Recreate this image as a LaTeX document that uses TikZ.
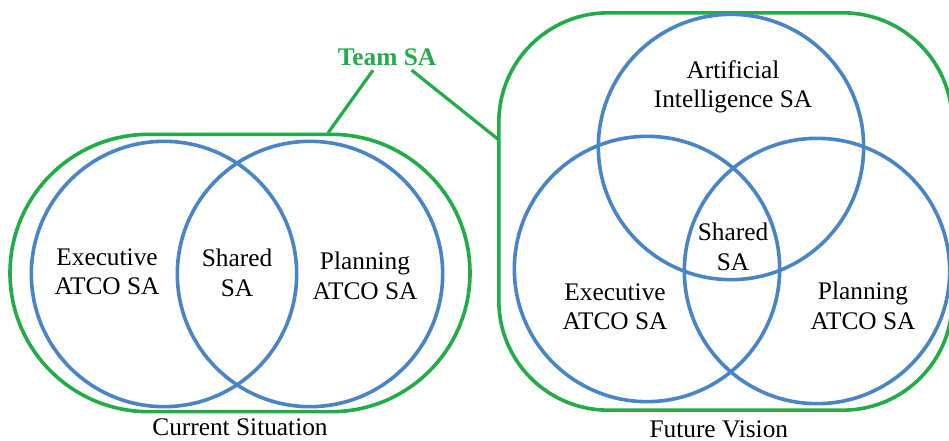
\documentclass[tikz,border=0pt]{standalone}
\usepackage{fontspec}
\setmainfont{Liberation Serif}
\usetikzlibrary{positioning}
\definecolor{teamgreen}{RGB}{34,172,72}
\definecolor{sablue}{RGB}{72,132,198}
\tikzstyle{sacircle} = [circle, draw=sablue, line width=2.7pt, minimum size=199pt, inner sep=0pt]
\tikzstyle{teambox} = [rectangle, draw=teamgreen, line width=2.7pt, inner sep=0pt]
\tikzstyle{teamline} = [draw=teamgreen, line width=2.4pt]
\tikzstyle{salabel} = [align=center, font=\fontsize{19pt}{22pt}\selectfont]
\begin{document}
\begin{tikzpicture}[x=0.75pt, y=-0.75pt]
	\useasboundingbox (0,0) rectangle (949,441);
	% current situation: two controllers
	\node (Current) [teambox, minimum width=345pt, minimum height=208pt, rounded corners=104pt] at (240,273) {};
	\node (ExecNow) [sacircle] at (164,274) {};
	\node (PlanNow) [sacircle] at (310,274) {};
	\node (ExecNowText) [salabel] at (107,272) {Executive\\ATCO SA};
	\node (SharedNowText) [salabel] at (237,273) {Shared\\SA};
	\node (PlanNowText) [salabel] at (365,276) {Planning\\ATCO SA};
	\node (CurrentCaption) [salabel, inner sep=1pt, below = 3pt of Current] {Current Situation};
	% future vision: controllers plus AI
	\node (Future) [teambox, minimum width=340pt, minimum height=298pt, rounded corners=82pt] at (725.5,211.5) {};
	\node (AI) [sacircle] at (731,147) {};
	\node (ExecFuture) [sacircle] at (647,269) {};
	\node (PlanFuture) [sacircle] at (817,271) {};
	\node (AIText) [salabel] at (733,87) {Artificial\\Intelligence SA};
	\node (SharedFutureText) [salabel] at (733,247) {Shared\\SA};
	\node (ExecFutureText) [salabel] at (615,307) {Executive\\ATCO SA};
	\node (PlanFutureText) [salabel] at (863,306) {Planning\\ATCO SA};
	\node (FutureCaption) [salabel, inner sep=1pt, below = 5pt of Future, xshift=-5pt] {Future Vision};
	% team SA callout
	\node (TeamSA) [salabel, text=teamgreen, font=\fontsize{19pt}{22pt}\selectfont\bfseries] at (387,57) {Team SA};
	\coordinate (CurrentTop) at (328,133);
	\coordinate (FutureSide) at (499,140);
	\draw [teamline] ([xshift=-10.5pt]TeamSA.south) -- (CurrentTop);
	\draw [teamline] ([xshift=18.5pt]TeamSA.south) -- (FutureSide);
\end{tikzpicture}
\end{document}
